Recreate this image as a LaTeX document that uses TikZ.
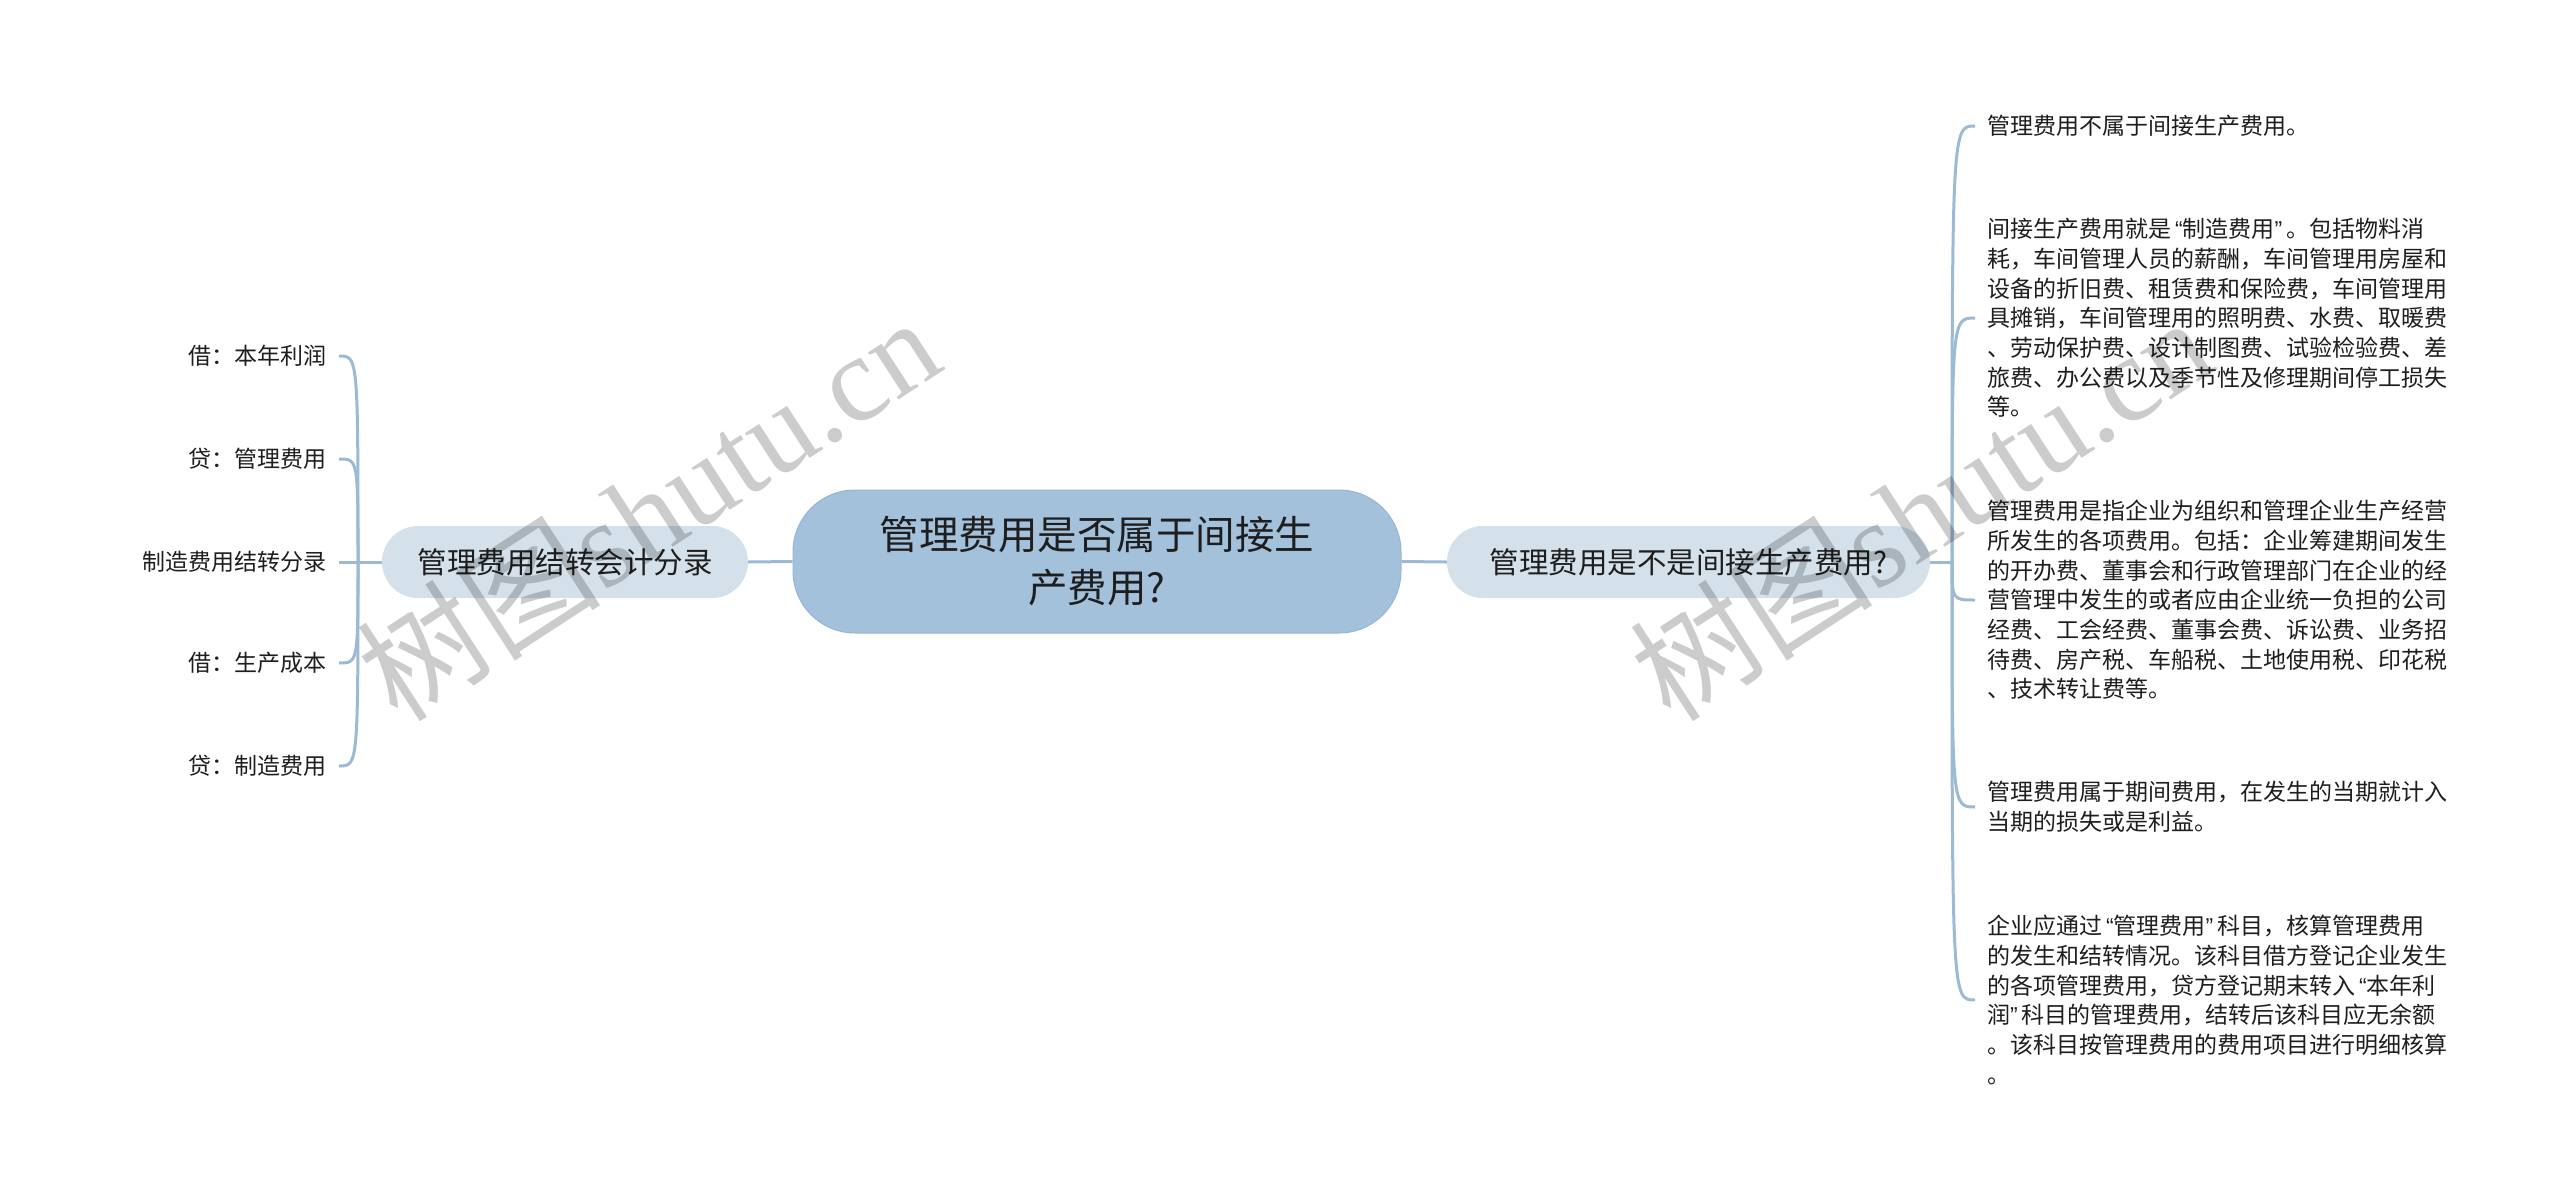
\documentclass[tikz,border=0pt]{standalone}
\usepackage{fontspec}
\setmainfont{Noto Sans CJK SC}
\newfontfamily\wmlatin{Liberation Serif}
\newfontfamily\qfont{Liberation Sans}
\newcommand{\myLQ}{\makebox[11.5pt][r]{\qfont “}}
\newcommand{\myRQ}{\makebox[11.5pt][l]{\qfont ”}}
\definecolor{rootfill}{HTML}{A4C1DC}
\definecolor{rootdraw}{HTML}{97B6D3}
\definecolor{subfill}{HTML}{D4E1EB}
\definecolor{linec}{HTML}{9DBAD4}
\definecolor{textc}{HTML}{1E1E1E}
\tikzset{
  conn/.style={draw=linec, line width=3pt},
  rootbox/.style={fill=rootfill, draw=rootdraw, line width=1pt, rounded corners=62pt,
    minimum width=608pt, minimum height=143pt, align=center, text=textc,
    font=\fontsize{39.5}{53}\selectfont},
  subbox/.style={fill=subfill, rounded corners=36pt, minimum height=72pt, inner sep=0pt,
    text=textc, font=\fontsize{29.5}{36}\selectfont},
  leaftext/.style={inner sep=0pt, text=textc, align=left, font=\fontsize{23}{29.7}\selectfont},
  wmark/.style={text=black, text opacity=0.2, inner sep=0pt, font=\fontsize{122}{130}\selectfont}
}
\begin{document}
\begin{tikzpicture}[x=1pt, y=-1pt]
\useasboundingbox (0,0) rectangle (2560,1199);
\fill[white] (0,0) rectangle (2560,1199);

% main nodes
\node[rootbox] (root) at (1097,561.5) {管理费用是否属于间接生\\产费用?};
\node[subbox, minimum width=366pt] (lnode) at (565,562) {管理费用结转会计分录};
\node[subbox, minimum width=483pt] (rnode) at (1688.5,562) {管理费用是不是间接生产费用?};

\draw[conn] (root.west) -- (lnode.east);
\draw[conn] (root.east) -- (rnode.west);

% left leaves
\node[leaftext, anchor=east] (l1) at (327,356) {借：本年利润};
\node[leaftext, anchor=east] (l2) at (327,459) {贷：管理费用};
\node[leaftext, anchor=east] (l3) at (327,562) {制造费用结转分录};
\node[leaftext, anchor=east] (l4) at (327,663) {借：生产成本};
\node[leaftext, anchor=east] (l5) at (327,766) {贷：制造费用};

\coordinate (ls) at (358,562);
\draw[conn] (lnode.west) -- (ls);
\foreach \n in {l1,l2,l3,l4,l5}{
  \draw[conn] (ls) .. controls (ls |- \n.east) and (ls |- \n.east) .. ([xshift=12pt]\n.east);
}

% right leaves
\node[leaftext, anchor=west] (r1) at (1987,126) {管理费用不属于间接生产费用。};
\node[leaftext, anchor=west] (r2) at (1987,318) {间接生产费用就是\myLQ 制造费用\myRQ 。包括物料消\\耗，车间管理人员的薪酬，车间管理用房屋和\\设备的折旧费、租赁费和保险费，车间管理用\\具摊销，车间管理用的照明费、水费、取暖费\\、劳动保护费、设计制图费、试验检验费、差\\旅费、办公费以及季节性及修理期间停工损失\\等。};
\node[leaftext, anchor=west] (r3) at (1987,600) {管理费用是指企业为组织和管理企业生产经营\\所发生的各项费用。包括：企业筹建期间发生\\的开办费、董事会和行政管理部门在企业的经\\营管理中发生的或者应由企业统一负担的公司\\经费、工会经费、董事会费、诉讼费、业务招\\待费、房产税、车船税、土地使用税、印花税\\、技术转让费等。};
\node[leaftext, anchor=west] (r4) at (1987,807) {管理费用属于期间费用，在发生的当期就计入\\当期的损失或是利益。};
\node[leaftext, anchor=west] (r5) at (1987,1000) {企业应通过\myLQ 管理费用\myRQ 科目，核算管理费用\\的发生和结转情况。该科目借方登记企业发生\\的各项管理费用，贷方登记期末转入\myLQ 本年利\\润\myRQ 科目的管理费用，结转后该科目应无余额\\。该科目按管理费用的费用项目进行明细核算\\。};

\coordinate (rs) at (1952,562);
\draw[conn] (rnode.east) -- (rs);
\foreach \n in {r1,r2,r3,r4,r5}{
  \draw[conn] (rs) .. controls (rs |- \n.west) and (rs |- \n.west) .. ([xshift=-12pt]\n.west);
}

% watermarks
\node[wmark, rotate=33] (wm1) at (648,508) {树图{\wmlatin shutu.cn}};
\node[wmark, rotate=33] (wm2) at (1920,508) {树图{\wmlatin shutu.cn}};
\end{tikzpicture}
\end{document}
